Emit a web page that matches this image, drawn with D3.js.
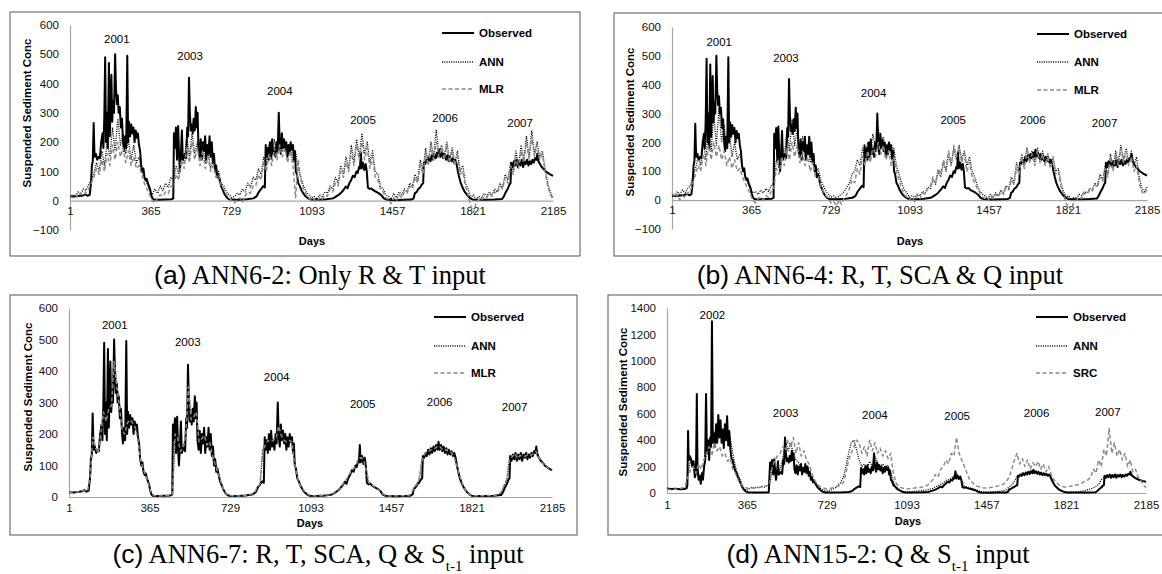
<!DOCTYPE html>
<html>
<head>
<meta charset="utf-8">
<script src="https://cdn.jsdelivr.net/npm/d3@7/dist/d3.min.js"></script>
<style>
  body { margin: 0; background: #fff; }
  text { font-family: "Liberation Sans", Arial, sans-serif; }
</style>
</head>
<body>
<svg id="chart" width="1162" height="574"></svg>
<script>
/* tick labels */
var dayTicks = [1, 365, 729, 1093, 1457, 1821, 2185];
var ticksAB = [-100, 0, 100, 200, 300, 400, 500, 600];
var ticksC = [0, 100, 200, 300, 400, 500, 600];
var ticksD = [0, 200, 400, 600, 800, 1000, 1200, 1400];
var yearsABC = ['2001', '2003', '2004', '2005', '2006', '2007'];
var yearsD = ['2002', '2003', '2004', '2005', '2006', '2007'];

var obs = [
  [1,15],[20,14],[40,16],[60,18],[70,22],[80,17],[90,20],[96,60],[100,120],[104,135],[108,265],[112,150],[118,160],[124,140],
  [130,150],[136,145],[142,200],[148,230],[152,180],[156,280],[160,490],[164,200],[168,300],[172,180],[177,470],[181,220],
  [185,330],[188,430],[192,270],[196,340],[200,300],[205,500],[209,380],[213,330],[217,360],[221,300],[226,320],[231,250],
  [236,280],[241,200],[245,170],[250,220],[255,180],[260,495],[264,200],[268,270],[273,220],[278,260],[283,230],[288,250],
  [293,200],[298,240],[303,215],[308,230],[313,190],[318,170],[323,120],[328,100],[333,110],[338,80],[343,70],[348,75],
  [353,60],[358,50],[363,40],[368,20],[374,8],[380,4],[400,3],[430,4],[460,5],[468,8],
  [471,230],[475,180],[480,250],[485,140],[490,255],[494,160],[498,100],[502,150],[507,240],[511,140],[516,150],[521,160],
  [526,145],[531,250],[535,220],[539,420],[543,300],[547,240],[551,260],[556,230],[560,280],[565,240],[570,320],[574,250],
  [578,300],[582,180],[587,150],[592,210],[597,140],[602,200],[607,170],[612,220],[617,140],[622,190],[627,160],[632,220],
  [637,150],[642,200],[647,130],[652,160],[657,100],[662,120],[667,80],[672,90],[678,70],[684,50],[690,40],[698,25],
  [706,15],[714,8],[725,4],[760,3],[800,5],[830,8],[845,15],[855,30],[865,40],[875,50],[882,45],
  [886,190],[890,150],[895,180],[900,140],[905,200],[910,150],[915,210],[920,160],[925,180],[930,150],[935,200],[940,170],
  [945,300],[949,200],[954,160],[959,230],[964,180],[969,210],[974,170],[979,200],[984,150],[989,190],[994,160],[999,200],
  [1004,175],[1009,190],[1014,140],[1018,170],[1022,100],[1027,90],[1033,60],[1040,50],[1048,35],[1056,25],[1066,15],
  [1078,8],[1090,4],[1120,3],[1160,5],[1190,8],
  [1200,12],[1212,18],[1224,25],[1236,35],[1248,48],[1256,42],[1264,60],[1272,70],[1280,85],[1288,80],[1296,100],[1302,95],
  [1308,115],[1312,110],[1316,165],[1320,110],[1326,130],[1332,105],[1338,125],[1343,100],[1348,45],[1356,40],[1364,42],
  [1374,35],[1386,30],[1398,25],[1410,18],[1420,8],[1432,4],[1470,2],[1510,3],[1545,4],[1555,8],
  [1560,25],[1568,30],[1576,40],[1584,45],[1592,55],[1598,60],[1601,130],[1607,125],[1613,140],[1619,130],[1625,150],
  [1631,135],[1637,155],[1643,140],[1649,160],[1655,145],[1661,165],[1667,150],[1672,175],[1677,150],[1683,165],[1689,145],
  [1695,160],[1701,140],[1707,155],[1713,135],[1719,150],[1725,135],[1731,145],[1737,130],[1743,140],[1749,125],[1755,100],
  [1761,80],[1768,60],[1776,45],[1786,30],[1798,18],[1810,9],[1822,4],[1870,3],[1920,4],[1955,6],
  [1963,15],[1972,30],[1980,40],[1988,55],[1993,60],[1996,130],[2002,115],[2008,135],[2014,120],[2020,140],[2026,115],
  [2032,135],[2038,120],[2044,140],[2050,115],[2056,135],[2062,125],[2068,140],[2074,120],[2080,135],[2086,125],[2092,140],
  [2098,130],[2104,145],[2110,140],[2114,160],[2119,135],[2126,125],[2134,115],[2143,108],[2152,100],[2162,95],[2172,90],
  [2185,85]
];

/* observed first season of panel d (2002), later seasons as above */
var obs2002 = [
  [1,35],[20,30],[40,32],[60,28],[80,30],[90,35],[94,60],[97,470],[100,250],[104,280],[110,260],[116,200],[122,240],
  [128,120],[133,150],[137,750],[140,200],[145,100],[150,130],[155,70],[160,150],[165,100],[170,200],[175,250],[179,750],
  [183,300],[188,400],[193,250],[198,420],[202,350],[206,1300],[210,380],[215,450],[220,350],[225,520],[230,380],[235,590],
  [240,420],[245,550],[250,380],[255,480],[260,340],[265,520],[270,400],[275,580],[280,360],[285,470],[290,330],[295,260],
  [300,250],[306,200],[312,170],[318,150],[324,120],[330,100],[337,70],[344,45],[352,25],[360,12],[370,6],[390,4],[430,4],
  [465,6]
];

/* model series, one value every 12 days from day 1 to 2185 */
var modelStep = 12;

var annA = [
  12,20,15,30,22,40,35,55,70,95, 130,100,170,120,200,150,250,170,280,190,
  230,160,210,140,190,130,150,100,80,60, 35,20,40,25,50,35,60,45,80,70,
  120,90,170,130,220,150,230,160,200,140, 190,130,170,110,140,90,100,60,50,30,
  20,10,15,25,20,40,30,60,45,80, 70,110,90,150,120,190,140,210,160,230,
  170,200,150,190,130,170,110,80,50,30, 20,10,15,5,20,15,30,25,50,40,
  80,60,120,90,150,110,190,130,210,150, 230,160,200,130,170,100,90,50,40,20,
  15,5,25,10,30,20,40,30,60,50, 90,70,140,100,180,130,200,150,240,160,
  190,150,200,140,180,130,170,100,120,60, 40,10,20,5,15,10,25,15,30,20,
  40,30,60,45,90,70,130,100,170,120, 190,140,220,150,240,160,200,150,170,110,
  60,30,10
];
var mlrA = [
  15,10,20,12,25,18,30,40,60,80, 110,90,140,100,160,120,190,140,200,150,
  180,130,170,120,150,110,120,90,60,40, 20,0,-8,10,20,15,30,25,50,45,
  90,70,140,110,180,130,200,140,180,120, 170,110,150,100,120,80,90,50,40,20,
  10,0,-8,5,10,-5,15,30,25,50, 50,90,70,130,100,160,120,180,140,190,
  150,180,130,170,120,10,140,70,40,20, 10,0,5,-5,10,5,20,15,40,30,
  60,50,100,80,130,100,170,120,190,140, 200,140,180,110,150,80,70,40,30,10,
  5,-10,10,0,20,10,30,25,50,40, 80,60,120,90,160,120,180,140,200,150,
  180,140,190,130,170,120,150,90,100,50, 20,-20,-40,-10,5,0,15,10,25,15,
  30,25,50,40,80,60,120,90,150,110, 170,130,200,140,220,150,190,140,160,100,
  50,20,5
];
var annB = [
  20,15,30,20,35,25,40,50,80,110, 150,120,200,140,260,170,300,190,320,200,
  260,180,230,150,200,140,160,110,90,60, 40,25,30,20,35,25,40,30,50,60,
  140,110,200,150,240,170,280,190,250,170, 220,150,190,130,160,100,110,70,50,30,
  20,10,15,5,15,20,30,45,60,90, 100,140,120,180,140,200,160,230,180,250,
  190,220,170,200,150,180,120,90,60,35, 25,10,15,10,20,15,30,25,45,40,
  70,55,100,80,130,100,160,120,180,140, 190,140,170,120,150,100,80,50,30,20,
  15,5,20,10,25,15,35,25,50,40, 80,60,130,100,160,120,180,140,170,130,
  180,140,170,130,160,120,150,100,110,60, 30,10,15,0,10,5,20,15,30,25,
  40,35,60,50,90,70,120,90,160,110, 170,130,190,140,180,130,170,120,150,80,
  40,30,45
];
var mlrB = [
  25,10,20,0,15,10,25,30,60,90, 120,100,160,120,190,140,200,150,190,140,
  170,120,150,110,140,100,110,80,60,40, 20,0,-10,5,10,0,15,10,30,40,
  110,90,150,120,180,140,200,150,190,130, 170,120,150,100,130,80,80,50,30,15,
  5,-10,-5,-20,0,-15,10,20,40,70, 60,110,90,150,120,170,130,190,150,200,
  160,190,140,170,120,150,100,70,40,20, 10,0,10,-5,15,5,25,20,40,50,
  80,60,110,90,140,110,170,120,190,150, 180,130,160,100,130,80,60,40,25,10,
  5,0,15,5,20,10,30,20,45,35, 70,55,110,90,150,110,170,130,160,120,
  170,130,160,120,150,110,140,90,100,50, 20,-10,-25,-35,-5,0,10,5,25,20,
  35,30,55,45,80,65,110,80,150,100, 160,120,180,130,170,120,150,100,120,60,
  30,20,40
];
var annC = [
  15,15,15,16,17,18,20,18,60,200, 150,145,210,280,250,290,280,450,360,300,
  200,210,240,250,240,225,190,110,85,70, 45,10,4,3,3,3,4,4,5,8,
  210,190,140,150,200,360,250,250,280,170, 190,200,170,170,140,110,85,50,30,12,
  5,4,4,3,3,4,4,5,6,8, 12,30,40,150,170,175,180,175,190,230,
  200,185,170,185,180,110,60,40,25,14, 8,4,3,3,3,4,4,5,6,8,
  12,18,25,35,48,60,75,85,100,115, 130,115,90,42,38,32,28,22,10,5,
  3,2,2,3,3,3,3,4,4,8, 28,42,55,120,135,140,150,145,160,165,
  160,150,145,150,140,135,110,70,45,30, 15,6,4,3,3,3,3,3,4,4,
  4,5,6,15,35,55,125,130,135,125, 135,125,135,130,135,140,150,125,115,105,
  95,90,85
];
var mlrC = [
  14,16,15,17,16,19,20,19,65,190, 155,140,200,270,240,280,290,430,350,290,
  210,200,235,245,235,220,180,115,90,65, 40,12,5,4,3,4,4,5,6,10,
  200,185,145,155,195,350,245,255,270,175, 185,195,165,175,135,105,80,55,28,14,
  6,5,4,4,3,5,5,6,7,10, 15,32,42,145,165,180,175,180,185,225,
  195,180,175,180,175,105,65,38,28,15, 9,5,4,3,4,5,5,6,7,10,
  14,20,27,38,50,62,78,88,98,118, 125,118,85,45,40,34,27,20,12,6,
  4,3,3,3,4,4,4,5,5,10, 30,40,58,115,138,142,148,150,155,162,
  158,148,150,145,142,130,105,72,48,28, 14,7,5,4,4,4,4,4,5,5,
  5,6,8,18,38,58,120,128,138,122, 132,128,130,135,132,138,145,128,112,102,
  96,88,86
];
var annD = [
  35,30,32,30,28,30,32,35,150,260, 230,150,120,110,180,300,380,420,460,400,
  480,420,500,450,420,300,200,140,90,40, 20,30,40,35,45,40,50,45,55,60,
  180,200,150,180,260,400,320,380,300,250, 230,200,190,170,150,110,90,60,40,25,
  20,15,20,30,40,60,80,120,200,300, 380,400,330,250,200,220,190,240,200,280,
  230,200,220,190,210,150,90,50,30,15, 10,8,8,10,12,15,15,20,20,25,
  30,35,45,55,65,75,95,100,115,130, 150,120,90,50,45,40,35,28,20,12,
  8,6,6,8,8,10,12,15,20,30, 45,60,90,130,140,150,145,160,165,170,
  160,150,155,145,140,135,110,70,45,25, 15,8,6,6,8,8,10,10,15,20,
  25,30,40,50,65,100,120,125,130,135, 130,140,125,135,130,140,150,130,115,105,
  95,90,85
];
var srcD = [
  30,25,30,28,30,35,40,60,120,180, 200,150,220,180,250,300,350,280,380,320,
  350,280,300,240,260,180,150,100,70,50, 40,35,40,38,40,42,45,50,55,60,
  200,250,280,300,350,320,400,350,420,300, 380,280,320,250,220,150,100,70,50,40,
  35,30,35,40,45,50,60,80,150,250, 300,350,400,380,300,350,280,400,320,380,
  300,340,280,320,260,300,150,80,50,40, 35,30,32,35,38,40,42,45,50,60,
  80,100,140,120,180,200,250,220,300,280, 420,300,250,200,150,100,80,60,50,45,
  40,38,40,42,45,50,55,60,70,90, 120,180,250,300,220,260,200,250,180,230,
  200,240,180,220,160,200,140,100,80,60, 50,45,45,50,55,60,60,70,80,90,
  100,120,180,150,250,200,330,280,490,300, 380,280,330,250,300,200,250,160,180,120,
  100,60,40
];

function sampled(vals) {
  return vals.map(function(v, i) { return [1 + i * modelStep, v]; });
}

var obsD = obs2002.concat(obs.filter(function(p) { return p[0] >= 471; }));

var panels = [
  {
    box: [10, 12, 580, 256], ax: [70, 553], yDom: [-100, 600], yRange: [230, 25], ticks: ticksAB, pad: 6,
    days: [312, 241], title: [27, 113], legX: 442, legY: [33, 62, 89], third: 'MLR',
    obs: obs, ann: annA, alt: mlrA, years: yearsABC,
    yearPos: [[213, 551], [544, 493], [950, 373], [1326, 277], [1697, 281], [2036, 267]],
    cap: [320, 284], capTag: '(a)', capText: ' ANN6-2: Only R & T', capSub: null
  },
  {
    box: [614, 13, 1175, 256], ax: [672, 1147], yDom: [-100, 600], yRange: [229, 27], ticks: ticksAB, pad: 6,
    days: [910, 241], title: [630, 122], legX: 1037, legY: [34, 62, 90], third: 'MLR',
    obs: obs, ann: annB, alt: mlrB, years: yearsABC,
    yearPos: [[218, 547], [525, 492], [928, 371], [1294, 277], [1660, 277], [1990, 267]],
    cap: [880, 284], capTag: '(b)', capText: ' ANN6-4: R, T, SCA & Q', capSub: null
  },
  {
    box: [10, 295, 577, 535], ax: [69, 552], yDom: [0, 600], yRange: [497, 308], ticks: ticksC, pad: 7,
    days: [310, 523], title: [28, 397], legX: 434, legY: [317, 346, 373], third: 'MLR',
    obs: obs, ann: annC, alt: mlrC, years: yearsABC,
    yearPos: [[208, 546], [538, 492], [940, 381], [1329, 295], [1677, 302], [2016, 286]],
    cap: [318, 563], capTag: '(c)', capText: ' ANN6-7: R, T, SCA, Q & S', capSub: 't-1'
  },
  {
    box: [608, 295, 1175, 535], ax: [667, 1146], yDom: [0, 1400], yRange: [493, 308], ticks: ticksD, pad: 8,
    days: [908, 521], title: [623, 402], legX: 1036, legY: [317, 346, 373], third: 'SRC',
    obs: obsD, ann: annD, alt: srcD, years: yearsD,
    yearPos: [[208, 1348], [542, 606], [949, 591], [1324, 583], [1686, 606], [2011, 614]],
    cap: [878, 563], capTag: '(d)', capText: ' ANN15-2: Q & S', capSub: 't-1'
  }
];

var svg = d3.select('#chart');
svg.append('rect').attr('width', 1162).attr('height', 574).attr('fill', '#fff');

var styles = {
  obs: { stroke: '#000', width: 2, dash: null },
  ann: { stroke: '#000', width: 1.3, dash: '1,1.3' },
  alt: { stroke: '#8a8a8a', width: 1.5, dash: '4,2.5' }
};
var serif = '"Liberation Serif", "Times New Roman", serif';

panels.forEach(function(p) {
  var g = svg.append('g');

  g.append('rect')
    .attr('x', p.box[0]).attr('y', p.box[1])
    .attr('width', p.box[2] - p.box[0]).attr('height', p.box[3] - p.box[1])
    .attr('fill', 'none').attr('stroke', '#555').attr('stroke-width', 1);

  var x = d3.scaleLinear().domain([1, 2185]).range(p.ax);
  var y = d3.scaleLinear().domain(p.yDom).range(p.yRange);

  var yAxis = g.append('g')
    .attr('transform', 'translate(' + p.ax[0] + ',0)')
    .call(d3.axisLeft(y).tickValues(p.ticks).tickSize(0).tickPadding(11).tickFormat(d3.format('d')));
  var xAxis = g.append('g')
    .attr('transform', 'translate(0,' + y(0) + ')')
    .call(d3.axisBottom(x).tickValues(dayTicks).tickSize(0).tickPadding(p.pad).tickFormat(d3.format('d')));
  [yAxis, xAxis].forEach(function(a) {
    a.select('.domain').attr('stroke', '#a6a6a6').attr('stroke-width', 1.2);
    a.selectAll('text').attr('font-size', 11.5).attr('fill', '#111')
      .attr('font-family', '"Liberation Sans", Arial, sans-serif');
  });

  var line = d3.line().x(function(d) { return x(d[0]); }).y(function(d) { return y(d[1]); });

  [['obs', p.obs], ['ann', sampled(p.ann)], ['alt', sampled(p.alt)]].forEach(function(s) {
    var st = styles[s[0]];
    g.append('path')
      .datum(s[1])
      .attr('d', line)
      .attr('fill', 'none')
      .attr('stroke', st.stroke)
      .attr('stroke-width', st.width)
      .attr('stroke-dasharray', st.dash)
      .attr('stroke-linejoin', 'round');
  });

  g.selectAll('.yr')
    .data(p.years)
    .enter().append('text')
    .attr('x', function(d, i) { return x(p.yearPos[i][0]); })
    .attr('y', function(d, i) { return y(p.yearPos[i][1]); })
    .attr('text-anchor', 'middle')
    .attr('dominant-baseline', 'central')
    .attr('font-size', 11.5)
    .text(function(d) { return d; });

  // legend
  var names = ['Observed', 'ANN', p.third];
  ['obs', 'ann', 'alt'].forEach(function(k, i) {
    var st = styles[k];
    g.append('line')
      .attr('x1', p.legX).attr('x2', p.legX + 32)
      .attr('y1', p.legY[i]).attr('y2', p.legY[i])
      .attr('stroke', st.stroke).attr('stroke-width', st.width)
      .attr('stroke-dasharray', st.dash);
    g.append('text')
      .attr('x', p.legX + 37).attr('y', p.legY[i])
      .attr('dominant-baseline', 'central')
      .attr('font-size', 11.5).attr('font-weight', 'bold')
      .text(names[i]);
  });

  g.append('text')
    .attr('x', p.days[0]).attr('y', p.days[1])
    .attr('text-anchor', 'middle').attr('dominant-baseline', 'central')
    .attr('font-size', 11).attr('font-weight', 'bold')
    .text('Days');

  g.append('text')
    .attr('transform', 'translate(' + p.title[0] + ',' + p.title[1] + ') rotate(-90)')
    .attr('text-anchor', 'middle').attr('dominant-baseline', 'central')
    .attr('font-size', 11.5).attr('font-weight', 'bold')
    .text('Suspended Sediment Conc');

  // caption below the panel
  var cap = svg.append('text')
    .attr('x', p.cap[0]).attr('y', p.cap[1])
    .attr('text-anchor', 'middle')
    .attr('font-size', 26.5);
  cap.append('tspan').attr('font-family', '"Liberation Sans", Arial, sans-serif').text(p.capTag);
  cap.append('tspan').attr('font-family', serif).text(p.capText);
  if (p.capSub) {
    cap.append('tspan').attr('font-family', serif)
      .attr('font-size', 15).attr('baseline-shift', 'sub').text(p.capSub);
  }
  cap.append('tspan').attr('font-family', serif).text(' input');
});
</script>
</body>
</html>
